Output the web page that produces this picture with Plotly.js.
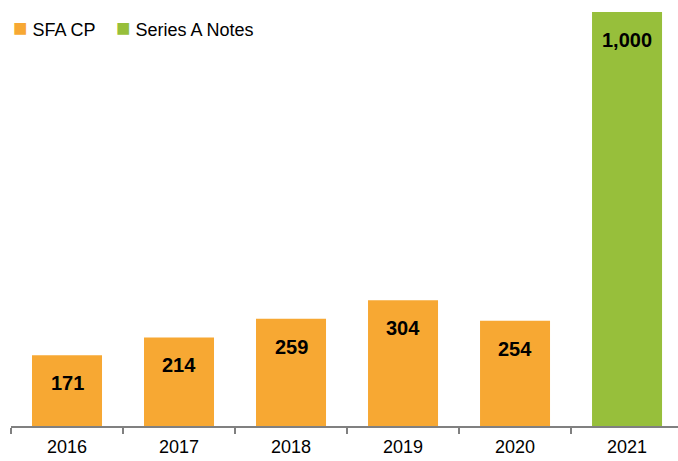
<!DOCTYPE html>
<html>
<head>
<meta charset="utf-8">
<script src="https://cdn.plot.ly/plotly-3.0.1.min.js"></script>
<style>html,body{margin:0;padding:0;background:#fff;}#chart{width:678px;height:461px;}</style>
</head>
<body>
<div id="chart"></div>
<script>
const years = ['2016', '2017', '2018', '2019', '2020', '2021'];
const sfaCP = [171, 214, 259, 304, 254, null];
const seriesA = [null, null, null, null, null, 1000];
const seriesNames = ['SFA CP', 'Series A Notes'];
const seriesColors = ['#F7A833', '#97BF3B'];

const FONT = '"Liberation Sans", Arial, sans-serif';

const traces = [
  {type: 'bar', x: years, y: sfaCP, name: seriesNames[0], marker: {color: seriesColors[0]}, width: 0.625, hoverinfo: 'none'},
  {type: 'bar', x: years, y: seriesA, name: seriesNames[1], marker: {color: seriesColors[1]}, width: 0.625, hoverinfo: 'none'}
];

const annotations = [];
years.forEach((yr, i) => {
  const v = sfaCP[i] != null ? sfaCP[i] : seriesA[i];
  if (v == null) return;
  annotations.push({
    x: i, y: v, xref: 'x', yref: 'y', yanchor: 'middle', yshift: -28,
    text: '<b>' + v.toLocaleString('en-US') + '</b>', showarrow: false,
    font: {family: FONT, size: 20, color: '#000'}
  });
});
// legend entries
const legendX = [0 / 667, 103 / 667];
seriesNames.forEach((n, i) => {
  annotations.push({
    xref: 'paper', yref: 'paper', x: legendX[i], y: 1 + (12 - 27) / 414,
    xanchor: 'left', yanchor: 'middle', showarrow: false,
    text: '<span style="color:' + seriesColors[i] + ';font-size:24px">■</span> ' + n,
    font: {family: FONT, size: 18, color: '#000'}
  });
});

const layout = {
  width: 678, height: 461,
  margin: {l: 11, r: 0, t: 12, b: 35, pad: 0},
  paper_bgcolor: '#fff', plot_bgcolor: '#fff',
  barmode: 'overlay',
  showlegend: false,
  font: {family: FONT, size: 18, color: '#000'},
  xaxis: {
    type: 'category', range: [-0.5, 5.455],
    showline: true, linecolor: '#808080', linewidth: 1.5,
    ticks: 'outside', ticklen: 6, tickcolor: '#808080', tickwidth: 1.5,
    tickson: 'boundaries', showgrid: false, zeroline: false,
    ticklabelstandoff: 4,
    tickfont: {family: FONT, size: 18, color: '#000'}
  },
  yaxis: {range: [0, 1000], visible: false, showgrid: false, zeroline: false},
  annotations: annotations
};

Plotly.newPlot('chart', traces, layout, {displayModeBar: false, staticPlot: true});
</script>
</body>
</html>
